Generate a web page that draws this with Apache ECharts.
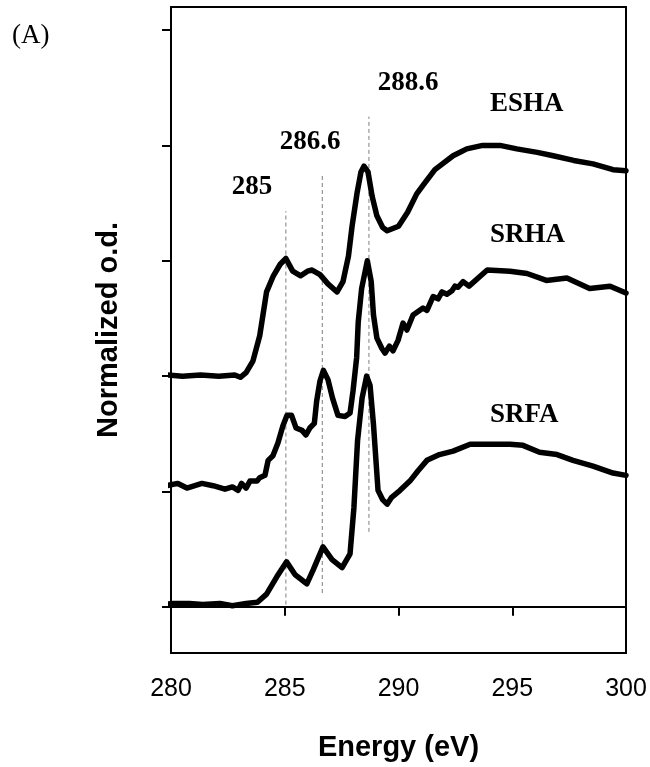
<!DOCTYPE html>
<html>
<head>
<meta charset="utf-8">
<script src="https://cdn.jsdelivr.net/npm/echarts@6/dist/echarts.min.js"></script>
<style>
  html, body { margin: 0; padding: 0; background: #fff; }
  #chart { width: 650px; height: 767px; }
</style>
</head>
<body>
<div id="chart"></div>
<script>
// spectra: [energy eV, normalized o.d. (offset)]
const esha = [
  [279.8, 2.01], [280.5, 2.0], [281.3, 2.01], [282.1, 2.0], [282.8, 2.01], [283.05, 1.99], [283.3, 2.03],
  [283.6, 2.13], [283.9, 2.35], [284.2, 2.73], [284.5, 2.87], [284.8, 2.97], [285.05, 3.02],
  [285.35, 2.91], [285.7, 2.87], [286.0, 2.91], [286.2, 2.92], [286.55, 2.88], [286.9, 2.80],
  [287.3, 2.73], [287.56, 2.82], [287.8, 3.04], [287.96, 3.30], [288.18, 3.59], [288.35, 3.77],
  [288.48, 3.82], [288.66, 3.77], [288.84, 3.56], [289.05, 3.39], [289.3, 3.29], [289.5, 3.26],
  [290.0, 3.30], [290.4, 3.42], [290.8, 3.58], [291.1, 3.66], [291.6, 3.79], [292.4, 3.91],
  [293.0, 3.97], [293.7, 4.0], [294.46, 4.0], [295.2, 3.97], [296.1, 3.94], [296.8, 3.91],
  [297.7, 3.87], [298.55, 3.84], [299.43, 3.79], [300, 3.78]
];
const srha = [
  [279.8, 1.05], [280.3, 1.07], [280.7, 1.03], [281.36, 1.07], [281.85, 1.05], [282.37, 1.02],
  [282.7, 1.04], [282.95, 1.01], [283.1, 1.07], [283.3, 1.03], [283.47, 1.09], [283.78, 1.09],
  [283.9, 1.12], [284.13, 1.14], [284.27, 1.27], [284.48, 1.31], [284.7, 1.42], [284.92, 1.57],
  [285.1, 1.66], [285.3, 1.66], [285.5, 1.55], [285.76, 1.53], [285.93, 1.49], [286.1, 1.55],
  [286.3, 1.59], [286.4, 1.78], [286.55, 1.96], [286.7, 2.05], [286.9, 1.97], [287.1, 1.81],
  [287.34, 1.66], [287.65, 1.65], [287.87, 1.68], [288.0, 1.87], [288.16, 2.16], [288.23, 2.47],
  [288.38, 2.76], [288.63, 3.0], [288.8, 2.82], [288.9, 2.53], [289.05, 2.33], [289.27, 2.24],
  [289.41, 2.2], [289.6, 2.26], [289.76, 2.22], [289.98, 2.31], [290.2, 2.46], [290.37, 2.40],
  [290.64, 2.53], [290.86, 2.56], [291.08, 2.59], [291.25, 2.57], [291.52, 2.69], [291.74, 2.67],
  [291.91, 2.73], [292.13, 2.71], [292.35, 2.74], [292.48, 2.78], [292.62, 2.77], [292.84, 2.82],
  [293.1, 2.78], [293.9, 2.92], [294.9, 2.91], [295.65, 2.89], [296.5, 2.83], [297.4, 2.85],
  [298.4, 2.76], [299.3, 2.78], [300, 2.72]
];
const srfa = [
  [279.6, 0.02], [280.1, 0.03], [280.8, 0.03], [281.4, 0.02], [282.15, 0.03], [282.7, 0.01],
  [283.3, 0.03], [283.8, 0.04], [284.2, 0.11], [284.65, 0.26], [285.08, 0.39], [285.45, 0.28],
  [285.97, 0.20], [286.25, 0.32], [286.68, 0.52], [287.08, 0.41], [287.52, 0.34], [287.87, 0.46],
  [288.04, 0.86], [288.2, 1.44], [288.4, 1.81], [288.6, 2.0], [288.75, 1.92], [288.9, 1.58],
  [289.1, 1.01], [289.3, 0.93], [289.5, 0.89], [289.7, 0.95], [290.07, 1.01], [290.5, 1.09],
  [290.86, 1.18], [291.25, 1.27], [291.8, 1.32], [292.4, 1.35], [293.15, 1.41], [294.0, 1.41],
  [294.9, 1.41], [295.47, 1.40], [296.2, 1.34], [296.97, 1.32], [297.67, 1.27], [298.55, 1.22],
  [299.43, 1.16], [300, 1.14]
];

// dashed guide lines at the peak energies
const peakEnergy = [285.05, 286.65, 288.7];
const peakLineTop = [3.43, 3.74, 4.25];
const peakLineBottom = [0.02, 0.12, 0.65];
const peakText = ["285", "286.6", "288.6"];
const peakTextAt = [[283.56, 3.64], [286.11, 4.03], [290.42, 4.54]];

const sampleNames = ["ESHA", "SRHA", "SRFA"];
const sampleTextAt = [[294.02, 4.36], [294.02, 3.22], [294.02, 1.66]];

const yTicks = [0, 1, 2, 3, 4, 5];

const chart = echarts.init(document.getElementById("chart"));

const serif = "'Liberation Serif', 'Times New Roman', serif";
const sans = "'Liberation Sans', Arial, sans-serif";

const series = [];
[esha, srha, srfa].forEach((d, i) => {
  series.push({
    name: sampleNames[i],
    type: "line",
    data: d,
    showSymbol: false,
    clip: false,
    lineStyle: { color: "#000", width: 5.5, join: "round", cap: "round" },
    z: 3
  });
});
peakEnergy.forEach((e, i) => {
  series.push({
    type: "line",
    data: [[e, peakLineBottom[i]], [e, peakLineTop[i]]],
    showSymbol: false,
    lineStyle: { color: "#7f7f7f", width: 1, type: [4, 3] },
    z: 2
  });
});
// text labels, anchored to data coordinates
const labelStyle = { fontFamily: serif, fontWeight: "bold", fontSize: 27, color: "#000" };
series.push({
  type: "scatter",
  symbolSize: 0,
  itemStyle: { opacity: 1 },
  data: peakTextAt.map((p, i) => ({ value: p, name: peakText[i] })),
  label: Object.assign({ show: true, position: "inside", formatter: "{b}" }, labelStyle),
  z: 5
});
series.push({
  type: "scatter",
  symbolSize: 0,
  itemStyle: { opacity: 1 },
  data: sampleTextAt.map((p, i) => ({ value: p, name: sampleNames[i] })),
  label: Object.assign({ show: true, position: [0, 0], align: "left", verticalAlign: "middle", formatter: "{b}" }, labelStyle),
  z: 5
});

chart.setOption({
  animation: false,
  grid: { left: 171, top: 7, right: 24, bottom: 111, show: true, borderColor: "#000", borderWidth: 2 },
  graphic: [{
    type: "text", left: 12, top: 22,
    style: { text: "(A)", font: "27px " + serif, fill: "#000" }
  }],
  xAxis: {
    type: "value", min: 280, max: 300, interval: 5,
    name: "Energy (eV)", nameLocation: "middle", nameGap: 80,
    nameTextStyle: { fontFamily: sans, fontWeight: "bold", fontSize: 29, color: "#000" },
    axisLine: { lineStyle: { color: "#000", width: 2 } },
    axisTick: { inside: false, length: 9, lineStyle: { color: "#000", width: 2 } },
    axisLabel: { fontFamily: sans, fontSize: 25, color: "#000", margin: 24 },
    splitLine: { show: false }
  },
  yAxis: {
    type: "value", min: -0.4, max: 5.2,
    name: "Normalized o.d.", nameLocation: "middle", nameGap: 48,
    nameTextStyle: { fontFamily: sans, fontWeight: "bold", fontSize: 29, color: "#000" },
    axisLine: { show: true, lineStyle: { color: "#000", width: 2 } },
    axisTick: { show: true, inside: false, length: 9, customValues: yTicks, lineStyle: { color: "#000", width: 2 } },
    axisLabel: { show: false },
    splitLine: { show: false }
  },
  series: series
});
</script>
</body>
</html>
